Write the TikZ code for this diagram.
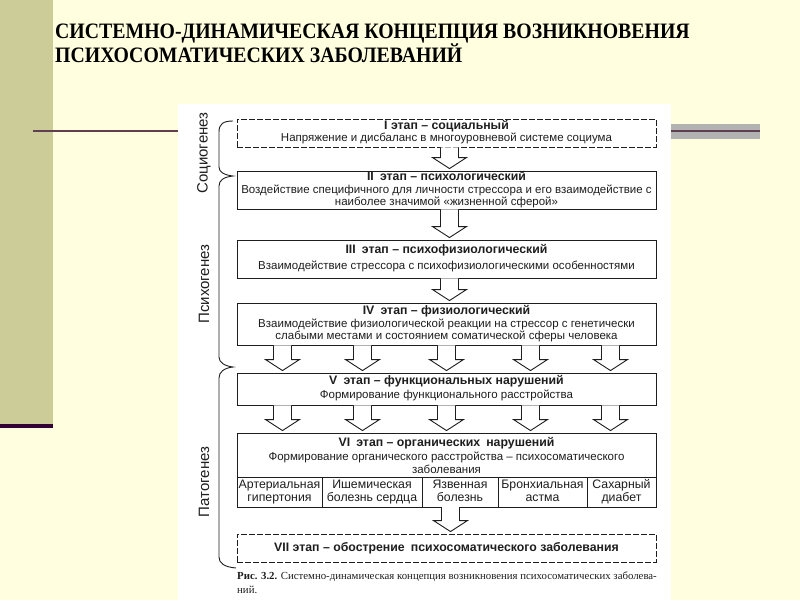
\documentclass[tikz,border=0pt]{standalone}
\usepackage{fontspec}
\setmainfont{Liberation Serif}
\setsansfont{Liberation Sans}
\usetikzlibrary{calc}
\definecolor{bg}{RGB}{255,255,224}
\definecolor{band}{RGB}{204,204,153}
\definecolor{plum}{RGB}{51,0,51}
\definecolor{lineplum}{RGB}{96,64,80}
\definecolor{graybar}{RGB}{178,178,178}
\definecolor{ink}{RGB}{30,30,30}
\newcommand\harrow[3]{%
  \draw[hollowarrow] ($(#2.south)+(#1-9,0)$) -- ($(#3.north)+(#1-9,-13)$)
    -- ($(#3.north)+(#1-17,-13)$) -- ($(#3.north)+(#1,-2)$)
    -- ($(#3.north)+(#1+17,-13)$) -- ($(#3.north)+(#1+9,-13)$)
    -- ($(#2.south)+(#1+9,0)$);}
\newcommand\hd[1]{{\fontsize{12.3}{12.5}\selectfont\bfseries #1}}
\newcommand\ttl[1]{\scalebox{0.9}[1]{#1}}
\begin{document}
\begin{tikzpicture}[x=1pt,y=-1pt,
  box/.style={draw=ink, line width=0.9pt, minimum width=419pt, align=center,
    inner sep=0pt, text=ink, font=\sffamily\fontsize{11.5}{12.5}\selectfont},
  dbox/.style={box, dash pattern=on 6pt off 2pt},
  cell/.style={draw=ink, line width=0.9pt, align=center, inner sep=0pt,
    minimum height=30pt, text=ink, font=\sffamily\fontsize{12.3}{13}\selectfont},
  hollowarrow/.style={draw=ink, fill=white, line width=0.9pt, line join=miter},
  side/.style={rotate=90, text=ink, inner sep=0pt, font=\sffamily\fontsize{15}{16}\selectfont},
  brace/.style={draw=ink, line width=0.9pt},
  title/.style={anchor=base west, inner sep=0pt, text=black, font=\rmfamily\bfseries\fontsize{22}{24}\selectfont}]
\useasboundingbox (0,0) rectangle (800,600);
\fill[bg] (0,0) rectangle (800,600);
\fill[band] (0,0) rectangle (53,424);
\fill[plum] (0,424) rectangle (53,428);
\draw[lineplum, line width=2pt] (33,131) -- (178,131);
\fill[graybar] (671,124) rectangle (760,139);
\draw[lineplum, line width=2pt] (671,131) -- (760,131);
\fill[white] (178,104) rectangle (671,600);

\node[title] (t1) at (55,38) {\ttl{СИСТЕМНО-ДИНАМИЧЕСКАЯ КОНЦЕПЦИЯ ВОЗНИКНОВЕНИЯ}};
\node[title] (t2) at (55,62) {\ttl{ПСИХОСОМАТИЧЕСКИХ ЗАБОЛЕВАНИЙ}};

\node[dbox, minimum height=28pt] (b1) at (446.5,133)
  {\strut\hd{I этап – социальный}\\Напряжение и дисбаланс в многоуровневой системе социума\strut};
\node[box, minimum height=38pt] (b2) at (446.5,190)
  {\hd{II\enspace этап – психологический}\\Воздействие специфичного для личности стрессора и его взаимодействие с\\наиболее значимой «жизненной сферой»};
\node[box, minimum height=38pt] (b3) at (446.5,259)
  {\strut\hd{III\enspace этап – психофизиологический}\\[3pt]Взаимодействие стрессора с психофизиологическими особенностями\strut};
\node[box, minimum height=42pt] (b4) at (446.5,324)
  {\hd{IV\enspace этап – физиологический}\\Взаимодействие физиологической реакции на стрессор с генетически\\слабыми местами и состоянием соматической сферы человека};
\node[box, minimum height=32pt] (b5) at (446.5,389)
  {\strut\hd{V\enspace этап – функциональных нарушений}\\[2pt]Формирование функционального расстройства\strut};
\node[box, minimum height=44pt] (b6) at (446.5,455)
  {\hd{VI\enspace этап – органических\enspace нарушений}\\[2pt]Формирование органического расстройства – психосоматического\\заболевания};
\node[cell, minimum width=85pt] (d1) at (279.5,492) {\strut Артериальная\\гипертония\strut};
\node[cell, minimum width=100pt] (d2) at (372,492) {\strut Ишемическая\\болезнь сердца\strut};
\node[cell, minimum width=76pt] (d3) at (460,492) {\strut Язвенная\\болезнь\strut};
\node[cell, minimum width=89pt] (d4) at (542.5,492) {\strut Бронхиальная\\астма\strut};
\node[cell, minimum width=69pt] (d5) at (621.5,492) {\strut Сахарный\\диабет\strut};
\node[minimum width=419pt, minimum height=30pt, inner sep=0pt] (row) at (446.5,492) {};
\node[dbox, minimum height=28pt] (b7) at (446.5,548)
  {\hd{VII этап – обострение\enspace психосоматического заболевания}};

\harrow{3}{b1}{b2}
\harrow{3}{b2}{b3}
\harrow{3}{b3}{b4}
\foreach \o in {-164,-84,0,84,164} {\harrow{\o}{b4}{b5}}
\foreach \o in {-164,-84,0,84,164} {\harrow{\o}{b5}{b6}}
\harrow{4}{row}{b7}

\draw[brace] (233,121) .. controls (223,121) and (219,124) .. (219,132) -- (219,167)
  .. controls (219,172) and (224,175) .. (233,176)
  .. controls (224,177) and (219,180) .. (219,186) -- (219,357)
  .. controls (219,362) and (224,366) .. (233,367)
  .. controls (224,368) and (219,372) .. (219,378) -- (219,557)
  .. controls (219,563) and (224,567) .. (236,568);
\node[side] (l1) at (204,153) {Социогенез};
\node[side] (l2) at (204,284) {Психогенез};
\node[side] (l3) at (204,482) {Патогенез};

\node[anchor=north west, align=left, inner sep=0pt, text=ink,
  font=\fontsize{10.8}{14}\selectfont] (cap) at (237,572)
  {\textbf{Рис. 3.2.} Системно-динамическая концепция возникновения психосоматических заболева-\\ний.};
\end{tikzpicture}
\end{document}
